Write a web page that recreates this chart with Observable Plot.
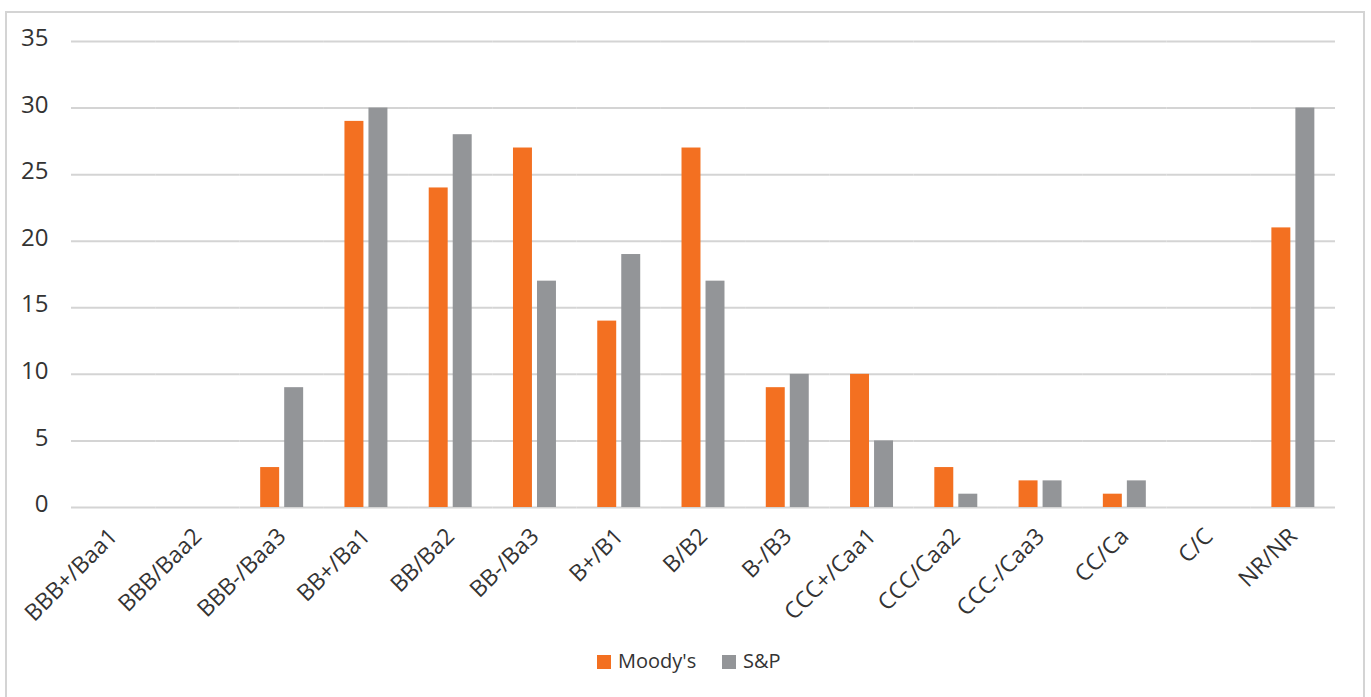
<!DOCTYPE html>
<html>
<head>
<meta charset="utf-8">
<script src="https://cdn.jsdelivr.net/npm/d3@7"></script>
<script src="https://cdn.jsdelivr.net/npm/@observablehq/plot@0.6"></script>
<style>
  html, body { margin: 0; padding: 0; background: #fff; }
  #wrap { position: relative; width: 1371px; height: 697px; overflow: hidden; font-family: "Open Sans", sans-serif; }
  #frame { position: absolute; left: 5px; top: 11px; width: 1360px; height: 700px; border: 2px solid #d4d4d4; box-sizing: border-box; }
  #chart { position: absolute; left: 0; top: 0; }
  #legend { position: absolute; left: 0; top: 0; width: 1371px; height: 697px; pointer-events: none; }
  .sw { position: absolute; top: 655px; width: 14px; height: 14px; }
  .lt { position: absolute; top: 647px; font-size: 20px; line-height: normal; color: #333; white-space: nowrap; }
</style>
</head>
<body>
<div id="wrap">
  <div id="frame"></div>
  <div id="chart"></div>
  <div id="legend"></div>
</div>
<script>
const categories = ["BBB+/Baa1","BBB/Baa2","BBB-/Baa3","BB+/Ba1","BB/Ba2","BB-/Ba3","B+/B1","B/B2","B-/B3","CCC+/Caa1","CCC/Caa2","CCC-/Caa3","CC/Ca","C/C","NR/NR"];
const moodys = [0,0,3,29,24,27,14,27,9,10,3,2,1,0,21];
const sp = [0,0,9,30,28,17,19,17,10,5,1,2,2,0,30];
const seriesNames = ["Moody's","S&P"];
const seriesColors = ["#F37021","#939598"];
const yTicks = [0,5,10,15,20,25,30,35];

const data = categories.flatMap((c, i) => [
  {cat: c, series: seriesNames[0], value: moodys[i]},
  {cat: c, series: seriesNames[1], value: sp[i]}
]);

const chart = Plot.plot({
  width: 1371,
  height: 630,
  marginLeft: 71,
  marginRight: 36,
  marginTop: 41,
  marginBottom: 123,
  style: {fontFamily: "'Open Sans', sans-serif", color: "#333", background: "transparent"},
  fx: {domain: categories, padding: 0, round: false, label: null},
  x: {domain: seriesNames, axis: null, round: false, paddingInner: 0.21, paddingOuter: 0.86},
  y: {domain: [0, 35], label: null},
  color: {domain: seriesNames, range: seriesColors},
  marks: [
    Plot.gridY(yTicks, {stroke: "#d4d4d4", strokeOpacity: 1, strokeWidth: 2}),
    Plot.axisY(yTicks, {tickSize: 0, tickPadding: 23, dy: -3, fontSize: 24, label: null, fill: "#333"}),
    Plot.axisFx({anchor: "bottom", tickRotate: -45, tickSize: 0, tickPadding: 25, fontSize: 23, label: null, fill: "#333"}),
    Plot.barY(data, {fx: "cat", x: "series", y: "value", fill: "series"})
  ]
});
document.getElementById("chart").appendChild(chart);

const legend = document.getElementById("legend");
const swatchX = [597, 722];
seriesNames.forEach((name, i) => {
  const sw = document.createElement("div");
  sw.className = "sw";
  sw.style.left = swatchX[i] + "px";
  sw.style.background = seriesColors[i];
  legend.appendChild(sw);
  const t = document.createElement("div");
  t.className = "lt";
  t.style.left = (swatchX[i] + 21) + "px";
  t.textContent = name;
  legend.appendChild(t);
});
</script>
</body>
</html>
